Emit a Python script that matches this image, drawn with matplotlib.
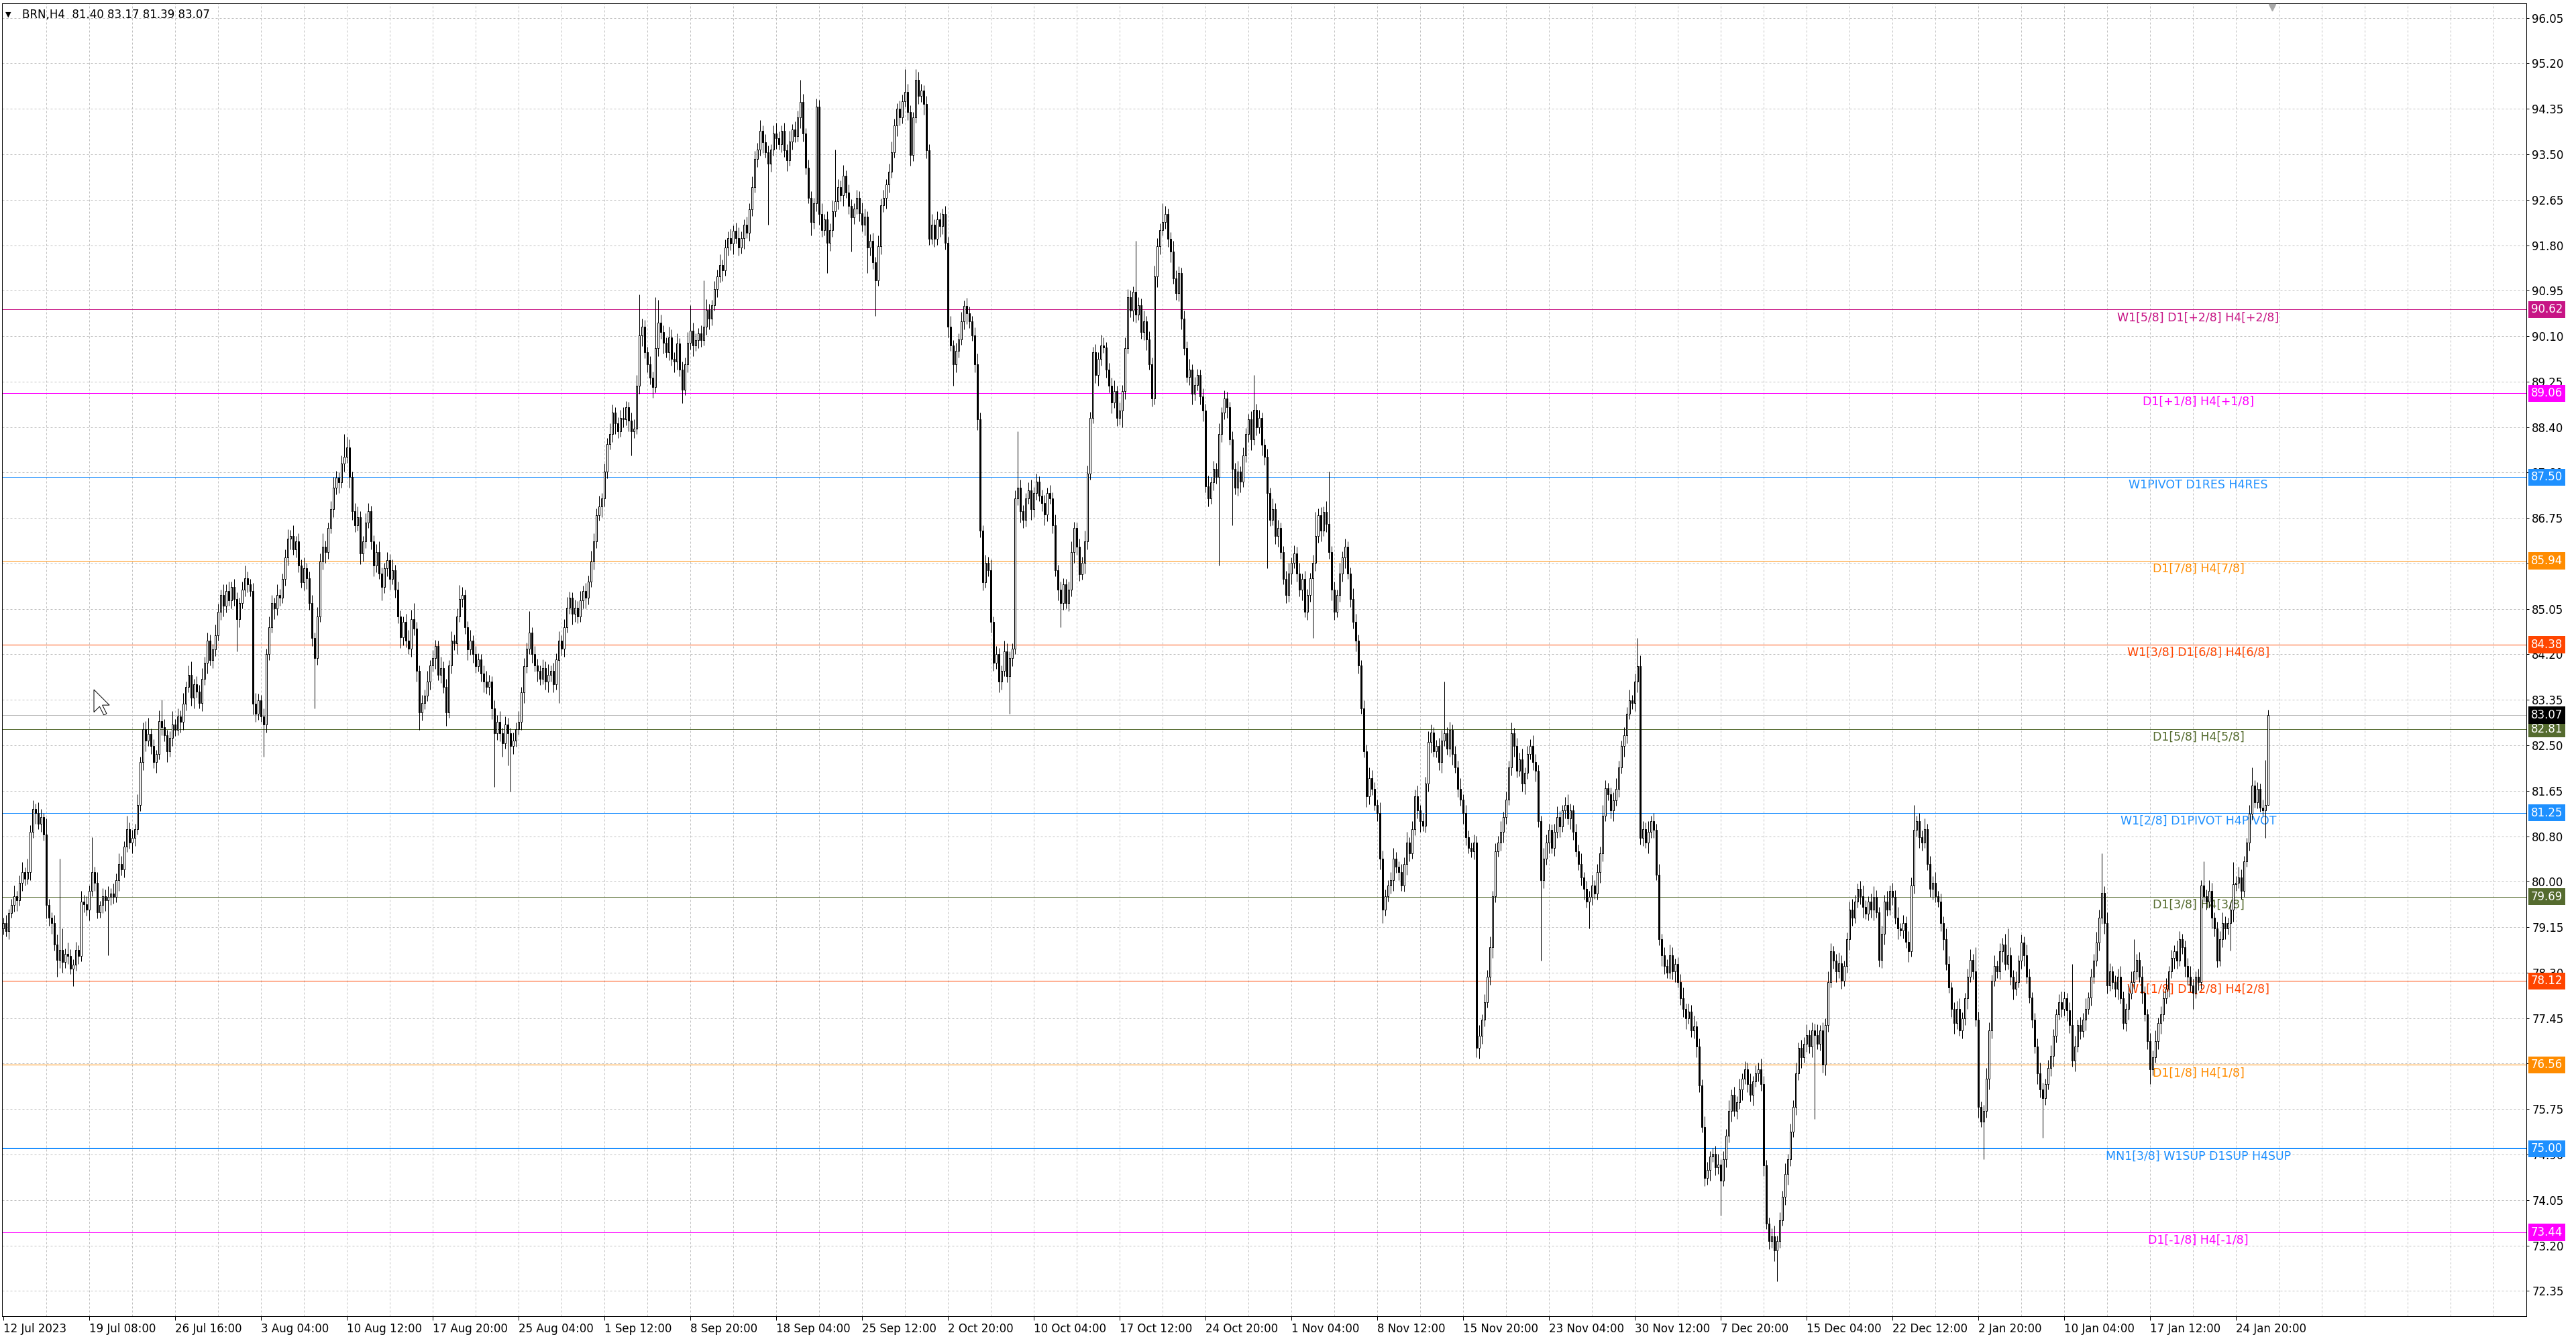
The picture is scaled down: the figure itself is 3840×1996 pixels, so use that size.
import matplotlib
matplotlib.use('Agg')
import matplotlib.pyplot as plt
from matplotlib.patches import Polygon
from matplotlib.transforms import blended_transform_factory

# Data
symbol_text = 'BRN,H4  81.40 83.17 81.39 83.07'

first_open = 79.10
closes = [
    79.20, 79.05, 79.38, 79.53, 79.70, 79.62, 79.95, 80.15, 80.02, 80.15,
    80.90, 81.32, 81.25, 81.05, 81.17, 80.85, 79.53, 79.30, 79.20, 78.80,
    78.51, 78.70, 78.48, 78.62, 78.59, 78.35, 78.43, 78.70, 78.59, 79.60,
    79.55, 79.45, 79.80, 80.15, 79.95, 79.40, 79.53, 79.70, 79.62, 79.69,
    79.75, 79.68, 80.00, 80.30, 80.20, 80.62, 80.95, 80.70, 80.78, 80.95,
    81.40, 82.20, 82.81, 82.60, 82.72, 82.50, 82.20, 82.34, 82.96, 82.85,
    82.70, 82.40, 82.65, 82.90, 82.80, 83.04, 82.95, 83.28, 83.60, 83.82,
    83.40, 83.65, 83.51, 83.30, 83.75, 84.05, 84.45, 84.10, 84.29, 84.55,
    84.99, 85.30, 85.10, 85.38, 85.20, 85.45, 85.23, 84.85, 85.15, 85.40,
    85.62, 85.50, 85.38, 83.28, 83.10, 83.35, 83.04, 82.90, 84.21, 84.70,
    85.15, 85.05, 85.30, 85.25, 85.60, 86.00, 86.35, 86.40, 86.15, 86.30,
    85.85, 85.54, 85.80, 85.62, 85.15, 84.50, 84.13, 84.90, 85.93, 86.20,
    86.10, 86.55, 86.90, 87.30, 87.49, 87.40, 87.75, 87.88, 88.05, 87.50,
    86.86, 86.60, 86.75, 86.08, 86.30, 86.65, 86.86, 86.30, 85.85, 86.10,
    85.70, 85.46, 85.80, 85.95, 85.60, 85.77, 85.40, 84.90, 84.52, 84.80,
    84.45, 84.30, 84.85, 84.68, 83.90, 83.12, 83.30, 83.43, 83.70, 84.00,
    84.13, 84.35, 83.82, 83.95, 83.60, 83.12, 84.00, 84.45, 84.40, 84.90,
    85.23, 85.30, 84.70, 84.29, 84.45, 84.20, 83.98, 84.10, 83.85, 83.70,
    83.59, 83.70, 83.20, 82.73, 82.95, 82.73, 82.55, 82.90, 82.73, 82.50,
    82.60, 82.81, 82.95, 83.50, 83.98, 84.30, 84.60, 84.20, 84.00, 83.90,
    83.75, 83.95, 83.70, 83.82, 83.90, 83.65, 84.10, 84.45, 84.30, 84.70,
    85.07, 85.25, 84.95, 85.07, 84.90, 85.20, 85.38, 85.25, 85.55, 85.93,
    86.30, 86.79, 86.95, 87.10, 87.60, 88.11, 88.30, 88.70, 88.50, 88.35,
    88.60, 88.58, 88.80, 88.55, 88.35, 88.40, 89.20, 90.14, 90.30, 89.83,
    89.60, 89.35, 89.18, 89.90, 90.38, 90.20, 90.00, 89.83, 90.10, 89.70,
    89.65, 89.99, 89.50, 89.13, 89.60, 90.00, 90.22, 89.95, 90.05, 90.17,
    90.05, 90.30, 90.61, 90.45, 90.70, 91.00, 91.24, 91.45, 91.35, 91.78,
    91.95, 91.85, 92.09, 91.95, 91.78, 91.95, 92.20, 92.05, 92.48, 92.90,
    93.42, 93.60, 93.95, 93.73, 93.55, 93.34, 93.60, 93.90, 93.81, 93.70,
    93.95, 93.58, 93.40, 93.75, 93.97, 93.85, 94.20, 94.48, 93.90, 93.26,
    92.70, 92.25, 92.60, 94.40, 92.40, 92.10, 92.30, 91.86, 92.10, 92.45,
    92.64, 92.90, 92.75, 93.11, 92.80, 92.55, 92.33, 92.50, 92.70, 92.41,
    92.20, 92.35, 91.78, 91.90, 91.50, 91.16, 91.80, 92.56, 92.70, 92.95,
    93.19, 93.55, 94.05, 94.36, 94.20, 94.50, 94.67, 94.30, 93.50, 94.20,
    94.90, 94.60, 94.70, 94.45, 93.58, 91.94, 92.20, 91.94, 92.30, 92.17,
    92.40, 91.86, 90.30, 89.95, 89.60, 89.85, 90.06, 90.40, 90.69, 90.55,
    90.40, 90.14, 89.60, 88.58, 86.50, 85.54, 85.90, 85.77, 84.80, 84.05,
    84.20, 83.70, 83.90, 84.25, 83.80, 84.13, 84.30, 87.10, 87.30, 86.86,
    86.70, 87.10, 87.25, 86.90, 87.20, 87.41, 87.15, 87.02, 86.80, 87.20,
    87.10, 86.60, 85.77, 85.40, 85.15, 85.50, 85.15, 85.40, 86.10, 86.55,
    86.20, 85.69, 85.90, 86.30, 87.57, 88.60, 89.83, 89.40, 89.70, 89.95,
    89.91, 89.50, 89.20, 88.89, 89.10, 88.60, 88.74, 89.10, 89.90, 90.85,
    90.60, 90.95, 90.53, 90.70, 90.20, 90.40, 90.06, 89.60, 88.97, 91.24,
    91.80, 92.10, 92.25, 92.40, 91.94, 91.70, 91.20, 90.92, 91.30, 90.45,
    89.90, 89.36, 89.50, 89.05, 89.21, 89.40, 89.00, 88.74, 87.33, 87.10,
    87.40, 87.65, 87.50, 88.30, 88.70, 88.97, 88.80, 88.20, 87.65, 87.30,
    87.60, 87.41, 87.90, 88.30, 88.58, 88.20, 88.75, 88.43, 88.60, 88.10,
    87.88, 87.20, 86.71, 86.90, 86.40, 86.55, 86.10, 85.60, 85.30, 85.70,
    85.90, 86.08, 85.70, 85.40, 85.60, 84.99, 85.30, 85.62, 85.90, 86.40,
    86.79, 86.50, 86.85, 86.63, 86.10, 85.40, 84.99, 85.30, 85.70, 86.00,
    86.20, 85.70, 85.23, 84.80, 84.45, 84.00, 83.20, 82.40, 81.56, 81.90,
    81.70, 81.40, 81.25, 80.40, 79.45, 79.70, 79.90, 80.00, 80.40, 80.25,
    80.15, 79.90, 80.30, 80.70, 80.50, 80.95, 81.56, 81.30, 81.10, 81.01,
    81.80, 82.57, 82.75, 82.40, 82.49, 82.20, 82.60, 82.73, 82.45, 82.80,
    82.34, 82.10, 81.70, 81.50, 81.25, 80.80, 80.60, 80.54, 80.70, 76.87,
    77.10, 77.40, 77.73, 78.20, 78.75, 79.70, 80.54, 80.70, 80.90, 81.17,
    81.50, 82.10, 82.73, 82.50, 82.03, 82.25, 81.80, 82.00, 82.34, 82.50,
    82.20, 82.03, 81.10, 80.00, 80.40, 80.70, 80.93, 80.60, 80.90, 81.17,
    81.00, 81.30, 81.40, 81.15, 81.30, 80.90, 80.54, 80.30, 80.05, 79.84,
    79.60, 79.68, 79.90, 79.75, 80.15, 80.50, 81.20, 81.71, 81.60, 81.30,
    81.48, 81.70, 82.10, 82.49, 82.70, 83.10, 83.35, 83.30, 83.70, 83.98,
    80.78, 80.95, 80.70, 80.90, 81.10, 80.93, 80.10, 78.90, 78.60, 78.40,
    78.28, 78.60, 78.30, 78.44, 78.10, 77.80, 77.60, 77.42, 77.55, 77.20,
    77.27, 76.90, 76.17, 75.40, 74.45, 74.60, 74.85, 74.90, 74.65, 74.70,
    74.40, 74.80, 75.24, 75.70, 76.00, 75.70, 75.86, 76.10, 76.30, 76.48,
    76.20, 76.00, 76.25, 76.40, 76.48, 76.20, 74.69, 73.60, 73.28, 73.36,
    73.10, 73.28, 73.67, 74.10, 74.53, 74.80, 75.31, 75.78, 76.40, 76.87,
    76.70, 76.95, 77.11, 76.90, 77.20, 77.11, 76.95, 77.20, 76.56, 77.30,
    78.10, 78.67, 78.50, 78.30, 78.45, 78.12, 78.40, 78.90, 79.45, 79.30,
    79.60, 79.84, 79.70, 79.50, 79.37, 79.60, 79.45, 79.69, 79.40, 78.51,
    79.00, 79.60, 79.45, 79.80, 79.69, 79.30, 79.10, 79.06, 79.20, 78.85,
    78.67, 79.90, 80.93, 81.10, 80.80, 80.70, 80.95, 80.30, 79.84, 79.95,
    79.70, 79.60, 79.20, 78.90, 78.44, 78.00, 77.60, 77.34, 77.60, 77.20,
    77.42, 77.80, 78.20, 78.51, 78.30, 77.40, 75.78, 75.50, 75.70, 76.30,
    77.20, 78.12, 78.40, 78.30, 78.67, 78.80, 78.44, 78.60, 78.20, 77.97,
    78.10, 78.50, 78.83, 78.60, 78.20, 77.81, 77.40, 76.90, 76.40, 76.10,
    75.94, 76.20, 76.50, 76.72, 77.10, 77.50, 77.73, 77.60, 77.80, 77.58,
    77.30, 76.64, 76.90, 77.30, 77.19, 77.40, 77.60, 77.81, 78.20, 78.50,
    78.83, 79.30, 79.76, 79.20, 78.04, 78.30, 78.10, 77.97, 78.20, 77.80,
    77.34, 77.60, 77.89, 78.10, 78.30, 78.51, 78.20, 77.90, 77.50, 77.00,
    76.48, 76.70, 77.00, 77.34, 77.50, 77.80, 77.97, 78.30, 78.55, 78.67,
    78.50, 78.90, 78.75, 78.40, 78.20, 78.04, 77.90, 78.20, 78.10, 79.90,
    79.70, 79.60, 79.80, 79.30, 79.10, 78.50, 78.90, 79.20, 79.10, 79.20,
    79.45, 79.92, 79.95, 80.05, 79.80, 80.35, 80.70, 81.24, 81.76, 81.45,
    81.70, 81.35, 81.30, 81.40, 83.07,
]

# wick lengths in cents above / below the candle body
upper_wick = [
    10, 15, 8, 12, 20, 10, 14, 18, 9, 25,
    12, 16, 10, 20, 15, 8, 30, 12, 10, 15,
    18, 170, 40, 10, 22, 12, 10, 15, 8, 20,
    12, 15, 10, 65, 10, 20, 8, 15, 12, 20,
    10, 18, 12, 20, 15, 10, 25, 12, 15, 10,
    20, 10, 12, 15, 30, 10, 12, 8, 20, 40,
    15, 10, 12, 25, 10, 15, 12, 20, 10, 18,
    25, 10, 15, 12, 20, 10, 15, 12, 10, 20,
    15, 10, 20, 12, 18, 10, 15, 12, 10, 15,
    23, 12, 10, 15, 20, 12, 10, 15, 10, 20,
    15, 10, 20, 12, 10, 15, 18, 12, 20, 10,
    15, 12, 20, 10, 12, 15, 10, 18, 15, 25,
    12, 10, 15, 20, 12, 10, 15, 42, 20, 15,
    10, 15, 20, 12, 10, 18, 15, 10, 12, 15,
    20, 12, 10, 15, 12, 20, 10, 15, 12, 10,
    15, 20, 18, 30, 12, 10, 15, 12, 20, 10,
    15, 12, 10, 20, 12, 15, 10, 18, 12, 15,
    26, 15, 10, 12, 20, 10, 15, 12, 10, 15,
    20, 12, 10, 15, 12, 20, 10, 15, 12, 10,
    15, 12, 20, 10, 15, 12, 40, 10, 15, 12,
    10, 15, 12, 20, 10, 15, 12, 18, 10, 15,
    20, 12, 10, 15, 12, 18, 10, 15, 12, 20,
    15, 12, 20, 10, 15, 12, 20, 15, 10, 12,
    15, 20, 12, 10, 15, 18, 20, 76, 15, 12,
    10, 15, 12, 95, 42, 15, 12, 10, 20, 15,
    12, 18, 10, 15, 12, 20, 48, 15, 12, 10,
    15, 86, 20, 12, 10, 15, 12, 20, 10, 15,
    12, 18, 10, 15, 20, 12, 10, 15, 12, 20,
    15, 12, 20, 10, 15, 12, 10, 15, 20, 12,
    10, 15, 12, 20, 10, 15, 12, 42, 15, 10,
    15, 12, 10, 15, 12, 20, 10, 15, 12, 20,
    96, 15, 12, 20, 10, 15, 12, 10, 15, 12,
    20, 15, 10, 12, 15, 10, 20, 12, 15, 10,
    15, 20, 12, 10, 15, 12, 43, 15, 12, 10,
    20, 15, 12, 10, 15, 12, 20, 10, 15, 12,
    10, 15, 12, 20, 10, 15, 12, 18, 10, 15,
    12, 10, 15, 20, 12, 10, 15, 12, 20, 10,
    15, 12, 10, 20, 15, 12, 10, 15, 105, 15,
    12, 10, 15, 20, 12, 15, 10, 12, 15, 10,
    15, 12, 20, 10, 15, 12, 10, 15, 20, 12,
    10, 15, 12, 20, 15, 12, 10, 15, 12, 20,
    15, 10, 12, 15, 20, 10, 15, 12, 20, 15,
    12, 10, 95, 15, 12, 20, 10, 15, 12, 20,
    15, 12, 35, 15, 10, 12, 20, 15, 12, 10,
    15, 12, 20, 10, 15, 12, 10, 15, 12, 20,
    10, 15, 12, 20, 10, 15, 12, 10, 15, 12,
    20, 10, 15, 12, 10, 15, 65, 12, 15, 10,
    12, 15, 10, 20, 12, 15, 10, 12, 15, 20,
    10, 15, 12, 20, 10, 15, 12, 10, 15, 45,
    12, 15, 10, 20, 97, 12, 15, 10, 20, 12,
    15, 10, 12, 20, 15, 12, 10, 15, 12, 20,
    15, 12, 10, 20, 15, 12, 10, 15, 20, 12,
    10, 15, 12, 20, 10, 15, 12, 20, 10, 15,
    12, 20, 15, 10, 12, 15, 20, 97, 12, 15,
    10, 15, 12, 20, 10, 15, 12, 10, 15, 12,
    20, 10, 15, 12, 20, 10, 15, 12, 20, 10,
    15, 12, 20, 10, 15, 12, 20, 10, 15, 12,
    20, 15, 12, 10, 20, 15, 12, 10, 15, 20,
    12, 10, 15, 20, 12, 10, 15, 12, 20, 10,
    15, 12, 20, 10, 15, 12, 20, 15, 10, 12,
    15, 20, 12, 10, 15, 12, 20, 10, 15, 52,
    20, 15, 12, 20, 10, 15, 12, 20, 10, 15,
    12, 20, 15, 10, 12, 15, 20, 10, 15, 12,
    20, 10, 15, 12, 20, 15, 10, 12, 15, 20,
    10, 15, 12, 20, 10, 15, 12, 20, 10, 15,
    12, 20, 10, 15, 12, 20, 15, 10, 12, 15,
    20, 10, 15, 12, 20, 10, 15, 12, 20, 10,
    15, 12, 20, 10, 15, 12, 20, 10, 15, 12,
    20, 15, 10, 12, 20, 15, 10, 12, 15, 20,
    12, 10, 15, 20, 12, 10, 15, 20, 12, 10,
    15, 12, 20, 10, 15, 12, 20, 10, 15, 12,
    20, 15, 47, 10, 15, 12, 20, 10, 15, 12,
    20, 10, 15, 12, 20, 15, 10, 12, 15, 20,
    12, 10, 15, 20, 12, 45, 15, 10, 12, 20,
    15, 12, 20, 10, 15, 12, 20, 50, 15, 12,
    20, 10, 15, 12, 20, 15, 10, 12, 15, 20,
    12, 10, 15, 20, 12, 10, 15, 20, 12, 10,
    15, 114, 20, 10, 15, 12, 20, 10, 15, 12,
    20, 15, 74, 12, 20, 15, 10, 12, 15, 20,
    12, 10, 15, 20, 60, 12, 15, 20, 12, 10,
    15, 12, 20, 10, 15, 12, 20, 10, 15, 12,
    20, 15, 10, 12, 15, 20, 12, 10, 15, 10,
    45, 12, 20, 15, 10, 12, 15, 20, 12, 10,
    15, 41, 12, 20, 15, 10, 8, 15, 34, 10,
    12, 10, 15, 83, 10,
]
lower_wick = [
    12, 10, 15, 8, 12, 20, 10, 15, 12, 10,
    15, 12, 20, 10, 15, 12, 25, 15, 20, 12,
    31, 15, 20, 12, 15, 10, 33, 12, 15, 10,
    15, 12, 20, 10, 15, 12, 10, 15, 20, 102,
    15, 12, 10, 20, 12, 15, 10, 12, 20, 15,
    10, 12, 15, 20, 10, 15, 12, 20, 10, 15,
    12, 20, 10, 15, 12, 10, 20, 15, 12, 10,
    15, 20, 12, 10, 15, 12, 20, 10, 15, 12,
    10, 15, 20, 12, 10, 15, 12, 60, 15, 10,
    12, 15, 10, 20, 15, 12, 10, 60, 15, 12,
    10, 20, 12, 15, 10, 12, 15, 20, 10, 15,
    12, 10, 15, 20, 12, 15, 93, 12, 10, 15,
    20, 12, 10, 15, 12, 20, 10, 15, 12, 20,
    15, 12, 10, 20, 15, 12, 10, 15, 20, 12,
    10, 25, 12, 15, 20, 10, 15, 12, 20, 15,
    12, 10, 15, 12, 20, 32, 15, 12, 10, 15,
    12, 20, 10, 15, 12, 25, 10, 15, 12, 20,
    10, 15, 12, 20, 10, 15, 12, 10, 15, 20,
    12, 15, 20, 100, 12, 15, 25, 10, 60, 86,
    15, 12, 10, 15, 20, 12, 10, 15, 12, 20,
    12, 10, 15, 20, 12, 15, 10, 80, 12, 15,
    10, 12, 20, 15, 12, 10, 15, 20, 12, 10,
    15, 12, 10, 20, 15, 12, 10, 15, 20, 12,
    10, 15, 12, 20, 45, 12, 10, 15, 20, 12,
    15, 12, 20, 10, 15, 12, 20, 10, 15, 12,
    20, 15, 12, 25, 10, 15, 12, 20, 10, 15,
    12, 10, 15, 20, 12, 10, 15, 12, 20, 10,
    15, 12, 20, 10, 15, 12, 20, 10, 15, 12,
    10, 15, 12, 20, 10, 114, 15, 12, 20, 10,
    15, 12, 20, 10, 15, 12, 10, 20, 15, 12,
    10, 25, 12, 15, 20, 12, 10, 56, 15, 12,
    10, 15, 12, 20, 10, 15, 63, 12, 10, 15,
    12, 20, 48, 15, 12, 66, 10, 15, 12, 20,
    15, 12, 10, 20, 15, 12, 10, 15, 20, 12,
    10, 15, 12, 20, 15, 12, 10, 15, 12, 20,
    15, 12, 20, 10, 40, 15, 12, 10, 15, 20,
    12, 10, 15, 20, 12, 15, 10, 12, 20, 15,
    12, 20, 15, 10, 12, 70, 15, 10, 12, 20,
    15, 12, 10, 20, 15, 12, 10, 15, 20, 12,
    10, 15, 12, 20, 45, 12, 10, 15, 12, 20,
    15, 12, 10, 20, 15, 12, 10, 15, 20, 12,
    10, 15, 12, 20, 10, 15, 12, 31, 15, 10,
    12, 20, 15, 10, 12, 15, 20, 10, 15, 12,
    20, 15, 10, 12, 15, 20, 10, 12, 15, 20,
    12, 10, 15, 20, 12, 10, 15, 20, 12, 15,
    10, 15, 12, 165, 15, 12, 20, 10, 105, 12,
    15, 20, 10, 12, 15, 20, 10, 15, 12, 20,
    15, 140, 12, 10, 15, 20, 12, 10, 15, 12,
    20, 10, 15, 12, 20, 10, 15, 12, 112, 15,
    12, 20, 10, 15, 12, 20, 15, 10, 12, 15,
    20, 10, 15, 12, 20, 15, 10, 12, 20, 15,
    12, 10, 15, 20, 25, 12, 10, 15, 20, 12,
    15, 10, 12, 20, 15, 10, 12, 15, 20, 10,
    12, 15, 20, 10, 12, 15, 20, 10, 12, 15,
    20, 10, 15, 12, 20, 15, 10, 12, 15, 17,
    20, 15, 12, 10, 15, 20, 12, 10, 15, 20,
    12, 10, 15, 20, 12, 10, 15, 20, 12, 10,
    15, 20, 12, 150, 15, 12, 20, 10, 15, 12,
    20, 10, 15, 12, 20, 15, 10, 12, 15, 20,
    12, 50, 15, 10, 12, 20, 15, 10, 12, 15,
    20, 10, 15, 12, 20, 15, 10, 12, 15, 20,
    12, 15, 10, 20, 12, 15, 10, 12, 20, 15,
    10, 12, 15, 20, 10, 12, 15, 20, 10, 12,
    15, 20, 12, 10, 15, 12, 20, 10, 15, 12,
    65, 10, 15, 12, 20, 10, 15, 12, 20, 10,
    15, 12, 20, 10, 15, 12, 20, 10, 15, 12,
    20, 57, 12, 10, 15, 20, 12, 10, 15, 12,
    20, 10, 15, 12, 20, 156, 10, 12, 15, 20,
    12, 10, 15, 20, 12, 15, 10, 12, 20, 15,
    10, 12, 15, 20, 10, 12, 15, 20, 10, 12,
    15, 20, 12, 10, 15, 12, 20, 10, 15, 12,
    20, 10, 15, 12, 20, 15, 10, 12, 15, 20,
    12, 10, 15, 20, 12, 10, 15, 20, 12, 10,
    15, 12, 20, 10, 15, 12, 20, 10, 70, 12,
    20, 15, 10, 12, 15, 20, 12, 10, 15, 20,
    12, 10, 15, 20, 12, 10, 15, 12, 20, 15,
    74, 12, 10, 15, 20, 12, 10, 15, 12, 20,
    15, 12, 20, 10, 15, 12, 20, 10, 15, 12,
    10, 15, 12, 20, 15, 10, 12, 15, 20, 10,
    12, 15, 20, 10, 12, 15, 10, 20, 12, 15,
    28, 12, 10, 15, 20, 12, 10, 15, 12, 20,
    15, 10, 12, 20, 15, 12, 30, 10, 15, 12,
    10, 15, 12, 20, 15, 12, 10, 15, 20, 12,
    52, 23, 12, 10, 15, 12, 10, 15, 12, 10,
    12, 8, 10, 51, 1,
]

date_labels = ['12 Jul 2023', '19 Jul 08:00', '26 Jul 16:00', '3 Aug 04:00', '10 Aug 12:00',
               '17 Aug 20:00', '25 Aug 04:00', '1 Sep 12:00', '8 Sep 20:00', '18 Sep 04:00',
               '25 Sep 12:00', '2 Oct 20:00', '10 Oct 04:00', '17 Oct 12:00', '24 Oct 20:00',
               '1 Nov 04:00', '8 Nov 12:00', '15 Nov 20:00', '23 Nov 04:00', '30 Nov 12:00',
               '7 Dec 20:00', '15 Dec 04:00', '22 Dec 12:00', '2 Jan 20:00', '10 Jan 04:00',
               '17 Jan 12:00', '24 Jan 20:00']

price_tick_labels = ['96.05', '95.20', '94.35', '93.50', '92.65', '91.80', '90.95', '90.10',
                     '89.25', '88.40', '87.60', '86.75', '85.90', '85.05', '84.20', '83.35',
                     '82.50', '81.65', '80.80', '80.00', '79.15', '78.30', '77.45', '76.60',
                     '75.75', '74.90', '74.05', '73.20', '72.35']

level_prices = [90.62, 89.06, 87.50, 85.94, 84.38, 82.81, 81.25, 79.69, 78.12, 76.56, 75.00, 73.44]
level_names = ['W1[5/8] D1[+2/8] H4[+2/8]', 'D1[+1/8] H4[+1/8]', 'W1PIVOT D1RES H4RES',
               'D1[7/8] H4[7/8]', 'W1[3/8] D1[6/8] H4[6/8]', 'D1[5/8] H4[5/8]',
               'W1[2/8] D1PIVOT H4PIVOT', 'D1[3/8] H4[3/8]', 'W1[1/8] D1[2/8] H4[2/8]',
               'D1[1/8] H4[1/8]', 'MN1[3/8] W1SUP D1SUP H4SUP', 'D1[-1/8] H4[-1/8]']
level_colors = ['#c71585', '#ff00ff', '#1e90ff', '#ff8c00', '#ff4500', '#556b2f',
                '#1e90ff', '#556b2f', '#ff4500', '#ff8c00', '#1e90ff', '#ff00ff']
last_price = 83.07

# Graphing
plt.rcParams['font.family'] = ['DejaVu Sans']

opens = [first_open] + closes[:-1]
n = len(closes)
highs = [max(o, c) + u / 100 for o, c, u in zip(opens, closes, upper_wick)]
lows = [min(o, c) - d / 100 for o, c, d in zip(opens, closes, lower_wick)]

W, H = 3840, 1996
PX = 0.72  # one pixel in points at dpi 100
fig = plt.figure(figsize=(W / 100, H / 100), dpi=100)
fig.patch.set_facecolor('white')
ax = fig.add_axes([3 / W, (H - 1962) / H, (3766 - 3) / W, (1962 - 5) / H])

x_min, x_max = -0.5, 940.25
y_min, y_max = 71.88, 96.32
ax.set_xlim(x_min, x_max)
ax.set_ylim(y_min, y_max)

# grid
ytick_pos = [96.05 - k * (96.05 - 72.35) / (len(price_tick_labels) - 1)
             for k in range(len(price_tick_labels))]
grid_kw = dict(colors='#c0c0c0', linewidth=PX, linestyles=(0, (3, 3)), zorder=0)
ax.hlines(ytick_pos, x_min, x_max, **grid_kw)
ax.vlines(range(16, int(x_max), 16), y_min, y_max, **grid_kw)

# levels
for p, name, c in zip(level_prices, level_names, level_colors):
    lw = 2 * PX if p == 75.00 else PX
    ax.axhline(p, color=c, lw=lw, zorder=1)
    ax.annotate(name, (818, p), xytext=(0, -3), textcoords='offset pixels',
                ha='center', va='top', fontsize=12.5, color=c, zorder=1.5)
ax.axhline(last_price, color='#c0c0c0', lw=PX, zorder=1)

# candles
xs = list(range(n))
ax.vlines(xs, lows, highs, colors='black', linewidth=PX, zorder=3)
bull = [i for i in xs if closes[i] >= opens[i]]
bear = [i for i in xs if closes[i] < opens[i]]
ax.bar(bull, [closes[i] - opens[i] for i in bull], bottom=[opens[i] for i in bull],
       width=0.55, color='white', edgecolor='black', linewidth=PX, zorder=4)
ax.bar(bear, [opens[i] - closes[i] for i in bear], bottom=[closes[i] for i in bear],
       width=0.55, color='black', edgecolor='black', linewidth=PX, zorder=4)

# axes
for s in ax.spines.values():
    s.set_color('black')
    s.set_linewidth(PX)
ax.yaxis.tick_right()
ax.set_yticks(ytick_pos)
ax.set_yticklabels(price_tick_labels)
ax.tick_params(axis='y', length=3, width=PX, pad=3, labelsize=12, colors='black')
ax.set_xticks(range(0, 32 * len(date_labels), 32))
ax.set_xticklabels(date_labels, ha='left')
ax.tick_params(axis='x', length=4, width=PX, pad=3, labelsize=12, colors='black')

# price boxes on the right scale
trans = blended_transform_factory(ax.transAxes, ax.transData)
for p, c in list(zip(level_prices, level_colors)) + [(last_price, 'black')]:
    ax.text(1.0018, p, f'{p:.2f}', transform=trans, ha='left', va='center',
            color='white', fontsize=12, clip_on=False, zorder=10,
            bbox=dict(boxstyle='square,pad=0.22', fc=c, ec='none'))

# chart shift marker
ax.plot([845.5], [y_max - 0.08], marker='v', color='#a8a8a8', ms=7, clip_on=False, zorder=5)

# symbol line
fig.text(8 / W, 1 - 22 / H, '\u25bc', fontsize=8, va='center', ha='left')
fig.text(33 / W, 1 - 22 / H, symbol_text, fontsize=12, va='center', ha='left')

# mouse pointer left on the chart
tip_x, tip_y, k = 140, H - 1028, 2.1
arrow = [(0, 0), (0, 16), (4, 12), (7, 18), (9, 17), (6, 11), (11, 11)]
cursor = Polygon([((tip_x + k * a) / W, (tip_y - k * b) / H) for a, b in arrow],
                 closed=True, transform=fig.transFigure, fc='white', ec='black',
                 lw=PX, zorder=20)
fig.patches.append(cursor)

fig.savefig('out.png', dpi=100)
